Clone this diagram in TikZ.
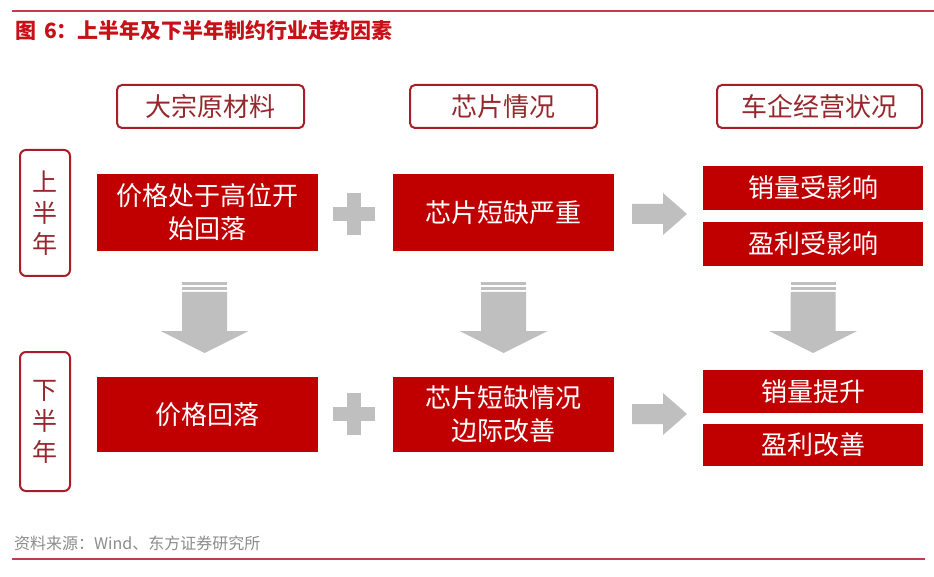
\documentclass[tikz,border=0pt]{standalone}
\usepackage{fontspec}
\setmainfont{Noto Sans CJK SC}
\definecolor{boxred}{RGB}{192,0,0}
\definecolor{titlered}{RGB}{200,16,24}
\definecolor{outred}{RGB}{168,30,40}
\definecolor{outtext}{RGB}{150,40,45}
\definecolor{arrgray}{RGB}{191,191,191}
\definecolor{linered}{RGB}{192,60,75}
\definecolor{notegray}{RGB}{140,140,140}
\begin{document}
\begin{tikzpicture}[x=1pt,y=-1pt,
  redbox/.style={fill=boxred,draw=none,text=white,align=center,inner sep=0pt,
    font=\fontsize{26}{33}\selectfont},
  headbox/.style={draw=outred,line width=2pt,rounded corners=5pt,text=outtext,
    inner sep=0pt,font=\fontsize{26}{30}\selectfont},
  sidebox/.style={draw=outred,line width=2pt,rounded corners=6pt,text=outtext,
    align=center,inner sep=0pt,font=\fontsize{25}{31}\selectfont},
  grayshape/.style={fill=arrgray,draw=none}]
\useasboundingbox (0,0) rectangle (934,577);
\fill[white] (0,0) rectangle (934,577);

% top rule and title
\draw[linered,line width=1.5pt] (12,11) -- (934,11);
\node[anchor=west,text=titlered,inner sep=0pt,font=\fontsize{21}{24}\selectfont\bfseries] (title) at (15,31) {图\hspace{8pt}6：上半年及下半年制约行业走势因素};

% header boxes
\node[headbox,minimum width=187,minimum height=43] (h1) at (210.5,106.5) {大宗原材料};
\node[headbox,minimum width=187,minimum height=43] (h2) at (503.5,106.5) {芯片情况};
\node[headbox,minimum width=205,minimum height=43] (h3) at (819.5,106.5) {车企经营状况};

% side boxes
\node[sidebox,minimum width=50,minimum height=126] (s1) at (45,213) {上\\半\\年};
\node[sidebox,minimum width=50,minimum height=139] (s2) at (45,421.5) {下\\半\\年};

% first half row
\node[redbox,minimum width=221,minimum height=77] (a1) at (207.5,212.5) {价格处于高位开\\始回落};
\node[redbox,minimum width=221,minimum height=77] (b1) at (503.5,212.5) {芯片短缺严重};
\node[redbox,minimum width=220,minimum height=44] (c1) at (813,188) {销量受影响};
\node[redbox,minimum width=220,minimum height=44] (d1) at (813,244) {盈利受影响};

% second half row
\node[redbox,minimum width=221,minimum height=75] (a2) at (207.5,414.5) {价格回落};
\node[redbox,minimum width=221,minimum height=75] (b2) at (503.5,414.5) {芯片短缺情况\\边际改善};
\node[redbox,minimum width=220,minimum height=43] (c2) at (813,391.5) {销量提升};
\node[redbox,minimum width=220,minimum height=42] (d2) at (813,445) {盈利改善};

% plus signs
\foreach \cy/\nm in {214/p1,414/p2}{
  \coordinate (\nm) at (354,\cy);
  \fill[arrgray] ([shift={(-21,-7)}]\nm) rectangle ([shift={(21,7)}]\nm);
  \fill[arrgray] ([shift={(-7,-21)}]\nm) rectangle ([shift={(7,21)}]\nm);
}

% right block arrows
\foreach \cy/\nm in {214/r1,414/r2}{
  \coordinate (\nm) at (659,\cy);
  \fill[arrgray] ([shift={(-27,-10)}]\nm) -- ([shift={(4,-10)}]\nm) -- ([shift={(4,-21)}]\nm)
    -- ([shift={(28,0)}]\nm) -- ([shift={(4,21)}]\nm) -- ([shift={(4,10)}]\nm)
    -- ([shift={(-27,10)}]\nm) -- cycle;
}

% down block arrows with stripes
\foreach \cx/\nm in {204.5/da,503.5/db,813/dc}{
  \coordinate (\nm) at (\cx,282);
  \fill[arrgray] ([shift={(-22.5,0)}]\nm) rectangle ([shift={(22.5,3)}]\nm);
  \fill[arrgray] ([shift={(-22.5,5)}]\nm) rectangle ([shift={(22.5,8)}]\nm);
  \fill[arrgray] ([shift={(-22.5,10)}]\nm) -- ([shift={(22.5,10)}]\nm) -- ([shift={(22.5,49)}]\nm)
    -- ([shift={(44,49)}]\nm) -- ([shift={(0,71)}]\nm) -- ([shift={(-44,49)}]\nm)
    -- ([shift={(-22.5,49)}]\nm) -- cycle;
}

% source and bottom rule
\node[anchor=west,text=notegray,inner sep=0pt,font=\fontsize{16}{19}\selectfont] (src) at (14,543) {资料来源：Wind、东方证券研究所};
\draw[linered,line width=1.2pt] (12,559) -- (925,559);
\end{tikzpicture}
\end{document}
